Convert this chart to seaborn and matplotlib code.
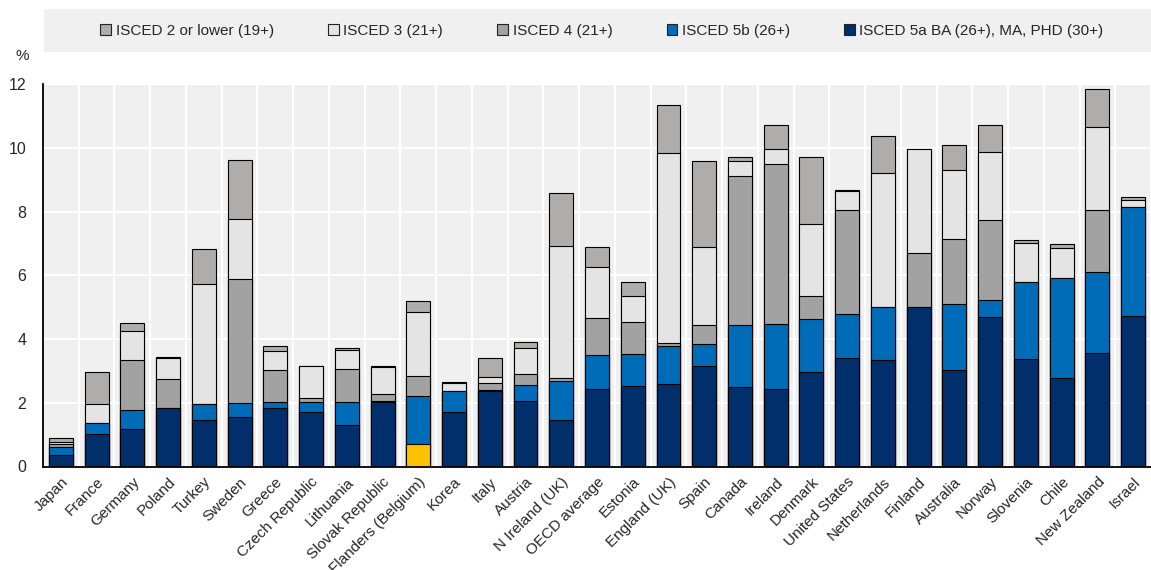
import numpy as np
import pandas as pd
import matplotlib
matplotlib.use("Agg")
import matplotlib.pyplot as plt
from matplotlib.patches import Patch, Rectangle
import seaborn as sns

countries = ["Japan", "France", "Germany", "Poland", "Turkey", "Sweden", "Greece",
             "Czech Republic", "Lithuania", "Slovak Republic", "Flanders (Belgium)",
             "Korea", "Italy", "Austria", "N Ireland (UK)", "OECD average", "Estonia",
             "England (UK)", "Spain", "Canada", "Ireland", "Denmark", "United States",
             "Netherlands", "Finland", "Australia", "Norway", "Slovenia", "Chile",
             "New Zealand", "Israel"]

# segment heights, bottom to top
isced_5a = [0.37, 1.02, 1.18, 1.85, 1.47, 1.56, 1.83, 1.70, 1.30, 2.02, 0.71,
            1.71, 2.38, 2.06, 1.45, 2.43, 2.54, 2.60, 3.15, 2.48, 2.43, 2.96,
            3.39, 3.33, 5.00, 3.02, 4.69, 3.37, 2.78, 3.55, 4.71]
isced_5b = [0.24, 0.36, 0.60, 0.00, 0.48, 0.43, 0.18, 0.32, 0.72, 0.02, 1.49,
            0.65, 0.03, 0.49, 1.23, 1.08, 1.00, 1.17, 0.68, 1.96, 2.03, 1.67,
            1.40, 1.67, 0.00, 2.08, 0.53, 2.41, 3.14, 2.54, 3.43]
isced_4 = [0.10, 0.00, 1.55, 0.91, 0.00, 3.88, 1.03, 0.12, 1.05, 0.23, 0.63,
           0.00, 0.22, 0.36, 0.11, 1.14, 1.00, 0.12, 0.62, 4.67, 5.03, 0.72,
           3.25, 0.00, 1.69, 2.04, 2.50, 0.00, 0.00, 1.96, 0.00]
isced_3 = [0.07, 0.57, 0.91, 0.64, 3.77, 1.88, 0.57, 1.00, 0.58, 0.86, 2.01,
           0.25, 0.18, 0.81, 4.14, 1.60, 0.81, 5.95, 2.45, 0.49, 0.46, 2.25,
           0.59, 4.22, 3.26, 2.17, 2.14, 1.24, 0.93, 2.60, 0.22]
isced_2 = [0.11, 1.02, 0.25, 0.03, 1.11, 1.87, 0.16, 0.02, 0.06, 0.03, 0.34,
           0.05, 0.58, 0.19, 1.65, 0.64, 0.45, 1.50, 2.67, 0.12, 0.77, 2.11,
           0.03, 1.14, 0.02, 0.77, 0.86, 0.10, 0.14, 1.19, 0.08]

labels = ["ISCED 2 or lower (19+)", "ISCED 3 (21+)", "ISCED 4 (21+)",
          "ISCED 5b (26+)", "ISCED 5a BA (26+), MA, PHD (30+)"]
colors = ["#b0acaa", "#e4e4e4", "#a2a2a2", "#006bb6", "#002f6c"]
highlight = "Flanders (Belgium)"

df = pd.DataFrame({"country": countries, "5a": isced_5a, "5b": isced_5b,
                   "4": isced_4, "3": isced_3, "2": isced_2})
df["c1"] = df["5a"]
df["c2"] = df["c1"] + df["5b"]
df["c3"] = df["c2"] + df["4"]
df["c4"] = df["c3"] + df["3"]
df["c5"] = df["c4"] + df["2"]

sns.set_style("white")
plt.rcParams["font.family"] = ["Liberation Sans", "DejaVu Sans"]
plt.rcParams["font.size"] = 11

fig = plt.figure(figsize=(11.51, 5.70), dpi=100)
ax = fig.add_axes([43 / 1151, 1 - 466.5 / 570, 1 - 43 / 1151, (466.5 - 84) / 570])
ax.set_facecolor("#f0f0f0")

bar_kw = dict(width=0.67, edgecolor="black", linewidth=0.8, saturation=1, zorder=3)
# draw cumulative totals from the top layer down so each layer covers the next
for col, c in zip(["c5", "c4", "c3", "c2"], colors[:4]):
    sns.barplot(data=df, x="country", y=col, color=c, ax=ax, **bar_kw)
pal = {k: (colors[4] if k != highlight else "#fdc300") for k in countries}
sns.barplot(data=df, x="country", y="c1", hue="country", palette=pal,
            legend=False, ax=ax, **bar_kw)

ax.set_ylim(0, 12)
ax.set_xlim(-0.5, 30.42)
ax.set_yticks(range(0, 13, 2))
ax.set_xticks(np.arange(len(countries)) + 0.5, minor=True)
ax.grid(False)
for y in range(2, 13, 2):
    ax.axhline(y, color="white", lw=1.5, zorder=1)
for x in np.arange(len(countries)) + 0.5:
    ax.axvline(x, color="white", lw=1.5, zorder=1)

ax.set_xticklabels(countries, rotation=45, ha="right", rotation_mode="anchor")
ax.tick_params(axis="x", which="major", length=0, pad=6, labelsize=11)
ax.tick_params(axis="x", which="minor", direction="in", length=4, width=1, color="black")
ax.tick_params(axis="y", direction="in", length=5, width=1, color="black", pad=12,
               labelsize=11.5)
ax.set_xlabel("")
ax.set_ylabel("")
for s in ["top", "right"]:
    ax.spines[s].set_visible(False)
for s in ["left", "bottom"]:
    ax.spines[s].set_color("black")
    ax.spines[s].set_linewidth(1.3)
    ax.spines[s].set_zorder(5)

fig.text(22 / 1151, 1 - 56 / 570, "%", ha="center", va="center", fontsize=11)

fig.patches.append(Rectangle((44 / 1151, 1 - 52 / 570), 1 - 44 / 1151, 43 / 570,
                             transform=fig.transFigure, facecolor="#f0f0f0",
                             edgecolor="none", zorder=0))
handles = [Patch(facecolor=c, edgecolor="#222222", linewidth=0.8) for c in colors]
fig.legend(handles, labels, loc="center", ncol=5, frameon=False,
           bbox_to_anchor=(602 / 1151, 1 - 30.5 / 570), fontsize=11,
           handlelength=0.7, handleheight=0.7, handletextpad=0.3,
           columnspacing=3.55)

fig.savefig("out.png", dpi=100)
plt.close(fig)
